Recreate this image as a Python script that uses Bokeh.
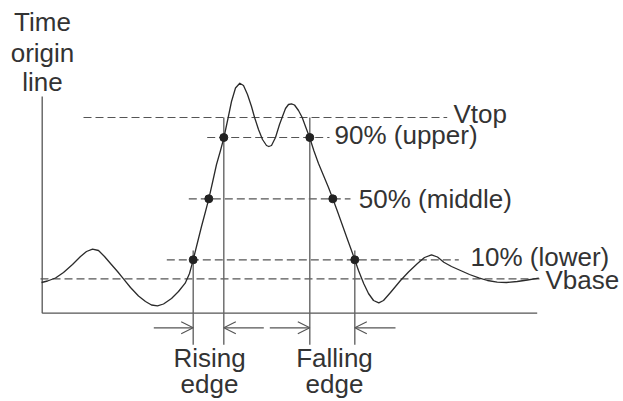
from bokeh.plotting import figure
from bokeh.models import Range1d, Arrow, OpenHead
from bokeh.core.properties import value
from bokeh.embed import file_html
from bokeh.resources import INLINE

# ---- data (diagram units: horizontal time, vertical screen level) ----
wave_t = [41, 47, 55, 63, 72, 80, 86, 92, 98, 104, 110, 117, 123, 130, 138, 145, 151, 157,
          163, 171, 178, 184.7, 189, 192.7, 197, 201, 205, 208.3, 212, 216, 220, 223.3,
          227.7, 231, 235, 239.3, 243, 247, 251, 254, 258, 262, 266, 268.3, 271, 275, 279,
          281.7, 285, 288, 291, 294, 298, 301.7, 305, 309.3, 313.3, 318, 323, 328, 332.3,
          337, 342, 347, 351, 354.3, 358, 363.3, 368, 373, 378.3, 383, 390, 400, 408,
          416.7, 424, 431, 437, 443.3, 451, 460, 469, 478.3, 487, 496.7, 506, 516.7, 527, 538.3]
wave_v = [282, 280.5, 277.5, 272, 264, 256, 251, 248.7, 250, 256, 263, 271, 278.3, 287, 295.5,
          301, 304.5, 305.3, 303.5, 298, 291, 282.7, 273, 259.3, 242, 226, 211, 198.3, 182,
          164, 150, 137.5, 117, 101, 87.5, 82.7, 85, 94, 106, 116.7, 129, 139, 145, 146, 145,
          137, 124, 116.7, 108, 104, 103.3, 104.5, 110, 117, 126, 137.5, 150, 163, 175, 187,
          198.3, 211, 225, 239, 250, 259.3, 270, 283.3, 293, 300, 302.3, 300, 292, 280,
          271.5, 263.3, 257, 254.3, 256.5, 261.7, 266, 270, 274, 277.3, 280, 281.7, 282,
          281, 279.5, 277.7]

level_names = ["Vtop", "90% (upper)", "50% (middle)", "10% (lower)", "Vbase"]
level_values = [117, 137, 198.3, 259.3, 278.3]

# crossing times of the edges
rise_t = [192.7, 208.3, 223.3]   # 10%, 50%, 90%
fall_t = [354.3, 332.3, 309.3]   # 10%, 50%, 90%
cross_levels = [259.3, 198.3, 137]

edge_names = ["Rising\nedge", "Falling\nedge"]
origin_label = ["Time", "origin", "line"]

# ---- layout / style ----
W, H = 623, 401
TXT = "#333333"
FONT = value("Liberation Sans")
FS = "26px"
DY = -8.5   # baseline correction for text placement

p = figure(width=W, height=H, output_backend="svg", toolbar_location=None,
           x_range=Range1d(0, W), y_range=Range1d(H, 0),
           min_border=0, min_border_left=0, min_border_right=0,
           min_border_top=0, min_border_bottom=0)
p.axis.visible = False
p.grid.visible = False
p.outline_line_color = None
p.background_fill_color = "white"
p.border_fill_color = "white"

# time origin line and base axis
x0 = wave_t[0] + 0.7
axis_y = 312.7
p.line([x0, x0], [96, axis_y], line_color="#555555", line_width=1.3)
p.line([x0, 536.7], [axis_y, axis_y], line_color="#555555", line_width=1.3)

# dashed level lines
dash_start = [83, 206.7, 188.3, 166.3, 40]
dash_end = [446.7, 329, 350, 458.3, 539]
p.multi_line(xs=[[a, b] for a, b in zip(dash_start, dash_end)],
             ys=[[v, v] for v in level_values],
             line_color="#555555", line_width=1.2, line_dash="8 4")

# level labels
lab_x = [453, 334, 358.3, 470, 545]
lab_base = [121.7 + DY, 142.7 + DY, 207 + DY, 265 + DY, 288.3 + DY]
p.text(x=lab_x, y=lab_base, text=level_names, text_font=FONT, text_font_size=FS,
       text_color=TXT, text_baseline="alphabetic", text_align="left")

# vertical measurement lines
vx = [rise_t[0], rise_t[2], fall_t[2], fall_t[0]]
vtop = [250, level_values[0], level_values[0], 250]
p.multi_line(xs=[[x, x] for x in vx], ys=[[t, 344.3] for t in vtop],
             line_color="#666666", line_width=1.4)

# waveform
p.line(wave_t, wave_v, line_color="#2a2a2a", line_width=1.3, line_join="round")

# crossing dots
p.scatter(rise_t + fall_t, cross_levels + cross_levels, size=8,
          fill_color="#222222", line_color="#222222")

# arrows
ay = 327.3
arrows = [(153.3, rise_t[0]), (263.3, rise_t[2]), (269.3, fall_t[2]), (395, fall_t[0])]
for xs, xe in arrows:
    p.add_layout(Arrow(x_start=xs, y_start=ay, x_end=xe, y_end=ay,
                       line_color="#555555", line_width=1.2,
                       end=OpenHead(size=12, line_color="#555555", line_width=1.2)))

# edge labels
for cx, lab in zip([209, 334], edge_names):
    l1, l2 = lab.split("\n")
    p.text(x=[cx, cx], y=[365.5 + DY, 392 + DY], text=[l1, l2], text_font=FONT,
           text_font_size=FS, text_color=TXT, text_baseline="alphabetic", text_align="center")

# time origin label
p.text(x=[42, 42, 42], y=[30 + DY, 60.5 + DY, 90 + DY], text=origin_label, text_font=FONT,
       text_font_size=FS, text_color=TXT, text_baseline="alphabetic", text_align="center")

open("out.html", "w").write(file_html(p, INLINE))
